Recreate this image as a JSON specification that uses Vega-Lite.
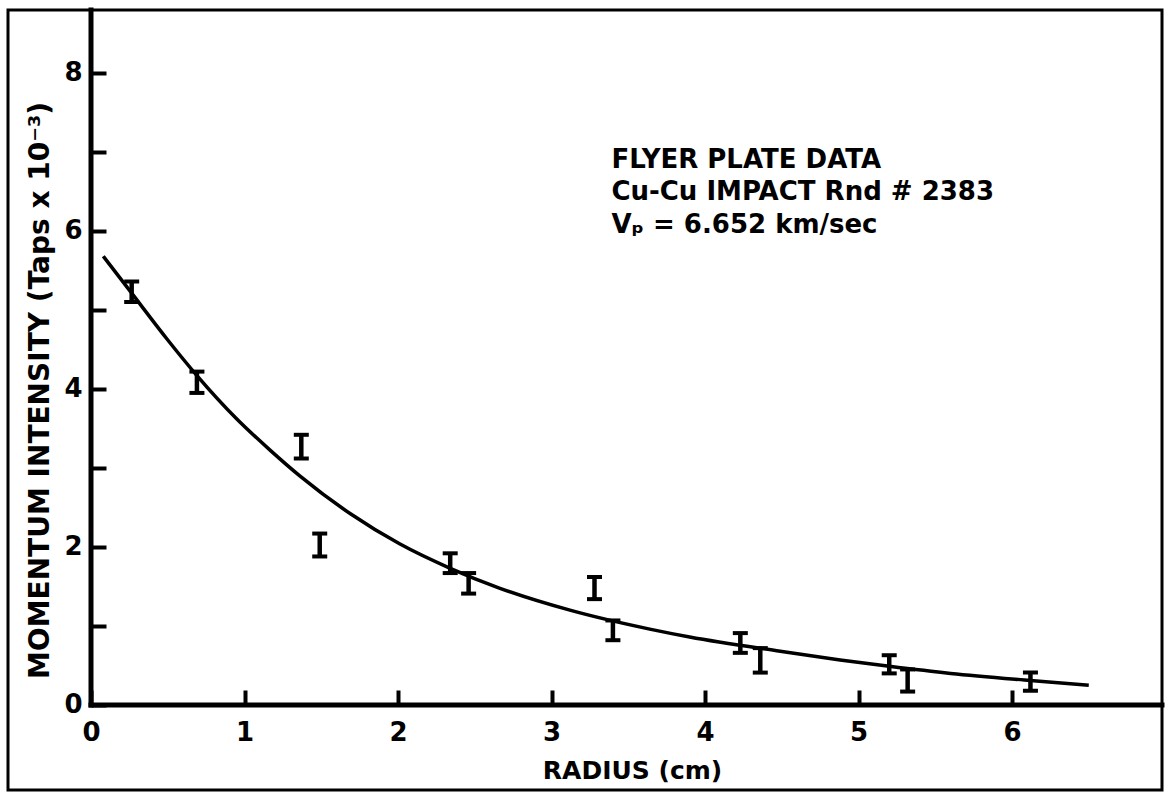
{
  "$schema": "https://vega.github.io/schema/vega-lite/v6.json",
  "width": 1154,
  "height": 780,
  "padding": {"left": 8, "top": 10, "right": 5, "bottom": 4},
  "autosize": {"type": "none"},
  "background": "white",
  "config": {"view": {"stroke": "black", "strokeWidth": 3}, "font": "DejaVu Sans"},
  "datasets": {
    "axislines": [
      {"x": 0, "y": 0, "x2": 0, "y2": 8.797},
      {"x": 0, "y": 0, "x2": 6.977, "y2": 0}
    ],
    "curve": [
      {"x": 0.08, "y": 5.68},
      {"x": 0.27, "y": 5.2},
      {"x": 0.5, "y": 4.62},
      {"x": 0.69, "y": 4.17},
      {"x": 0.95, "y": 3.62},
      {"x": 1.17, "y": 3.22},
      {"x": 1.36, "y": 2.9},
      {"x": 1.69, "y": 2.42},
      {"x": 2.01, "y": 2.04},
      {"x": 2.34, "y": 1.73},
      {"x": 2.66, "y": 1.48},
      {"x": 3.12, "y": 1.2},
      {"x": 3.64, "y": 0.96},
      {"x": 3.9, "y": 0.86},
      {"x": 4.49, "y": 0.68},
      {"x": 4.88, "y": 0.57},
      {"x": 5.2, "y": 0.49},
      {"x": 5.6, "y": 0.4},
      {"x": 6.12, "y": 0.31},
      {"x": 6.5, "y": 0.25}
    ],
    "bars": [
      {"x": 0.265, "lo": 5.1, "hi": 5.36},
      {"x": 0.69, "lo": 3.95, "hi": 4.22},
      {"x": 1.37, "lo": 3.12, "hi": 3.42},
      {"x": 1.49, "lo": 1.88, "hi": 2.17},
      {"x": 2.34, "lo": 1.67, "hi": 1.92},
      {"x": 2.46, "lo": 1.41, "hi": 1.67},
      {"x": 3.28, "lo": 1.34, "hi": 1.62},
      {"x": 3.4, "lo": 0.82, "hi": 1.07},
      {"x": 4.23, "lo": 0.66, "hi": 0.91},
      {"x": 4.36, "lo": 0.41, "hi": 0.72},
      {"x": 5.2, "lo": 0.4, "hi": 0.63},
      {"x": 5.32, "lo": 0.17, "hi": 0.45},
      {"x": 6.12, "lo": 0.18, "hi": 0.41}
    ],
    "notes": [
      {"x": 3.39, "y": 6.9, "label": "FLYER PLATE DATA"},
      {"x": 3.39, "y": 6.49, "label": "Cu-Cu IMPACT Rnd # 2383"},
      {"x": 3.39, "y": 6.08, "label": "Vₚ = 6.652 km/sec"}
    ]
  },
  "encoding": {
    "x": {
      "field": "x",
      "type": "quantitative",
      "scale": {"domain": [-0.5407, 6.977], "nice": false, "zero": false},
      "axis": {
        "title": "RADIUS (cm)",
        "values": [0, 1, 2, 3, 4, 5, 6],
        "offset": -100,
        "domain": false,
        "grid": false,
        "tickSize": 15,
        "tickWidth": 4,
        "tickColor": "black",
        "labelFont": "DejaVu Sans",
        "labelFontSize": 26,
        "labelFontWeight": "bold",
        "labelColor": "black",
        "labelPadding": 14,
        "titleFont": "DejaVu Sans",
        "titleFontSize": 25,
        "titleFontWeight": "bold",
        "titleColor": "black",
        "titleX": 624,
        "titleY": 80,
        "titleAlign": "center",
        "titleBaseline": "middle"
      }
    },
    "y": {
      "field": "y",
      "type": "quantitative",
      "scale": {"domain": [-1.076, 8.797], "nice": false, "zero": false},
      "axis": {
        "title": "MOMENTUM INTENSITY (Taps x 10⁻³)",
        "values": [0, 1, 2, 3, 4, 5, 6, 7, 8],
        "labelExpr": "datum.value % 2 == 0 ? datum.label : ''",
        "offset": -98,
        "domain": false,
        "grid": false,
        "tickSize": 15,
        "tickWidth": 4,
        "tickColor": "black",
        "labelFont": "DejaVu Sans",
        "labelFontSize": 26,
        "labelFontWeight": "bold",
        "labelColor": "black",
        "labelPadding": 9,
        "titleFont": "DejaVu Sans",
        "titleFontSize": 28,
        "titleFontWeight": "bold",
        "titleColor": "black",
        "titleX": -66,
        "titleY": 380,
        "titleAngle": -90,
        "titleAlign": "center",
        "titleBaseline": "middle"
      }
    }
  },
  "layer": [
    {
      "data": {"name": "axislines"},
      "mark": {"type": "rule", "color": "black", "strokeWidth": 5, "strokeCap": "square"},
      "encoding": {
        "x2": {"field": "x2"},
        "y2": {"field": "y2"}
      }
    },
    {
      "data": {"name": "curve"},
      "mark": {"type": "line", "color": "black", "strokeWidth": 3.5, "interpolate": "monotone"},
      "encoding": {}
    },
    {
      "data": {"name": "bars"},
      "mark": {"type": "rule", "color": "black", "strokeWidth": 4.5},
      "encoding": {
        "y": {"field": "lo", "type": "quantitative", "title": "MOMENTUM INTENSITY (Taps x 10⁻³)"},
        "y2": {"field": "hi"}
      }
    },
    {
      "data": {"name": "bars"},
      "mark": {"type": "tick", "orient": "horizontal", "size": 15, "thickness": 4, "color": "black", "opacity": 1},
      "encoding": {
        "y": {"field": "lo", "type": "quantitative", "title": "MOMENTUM INTENSITY (Taps x 10⁻³)"}
      }
    },
    {
      "data": {"name": "bars"},
      "mark": {"type": "tick", "orient": "horizontal", "size": 15, "thickness": 4, "color": "black", "opacity": 1},
      "encoding": {
        "y": {"field": "hi", "type": "quantitative", "title": "MOMENTUM INTENSITY (Taps x 10⁻³)"}
      }
    },
    {
      "data": {"name": "notes"},
      "mark": {"type": "text", "align": "left", "baseline": "middle", "font": "DejaVu Sans", "fontSize": 26, "fontWeight": "bold", "color": "black"},
      "encoding": {
        "text": {"field": "label"}
      }
    }
  ]
}
